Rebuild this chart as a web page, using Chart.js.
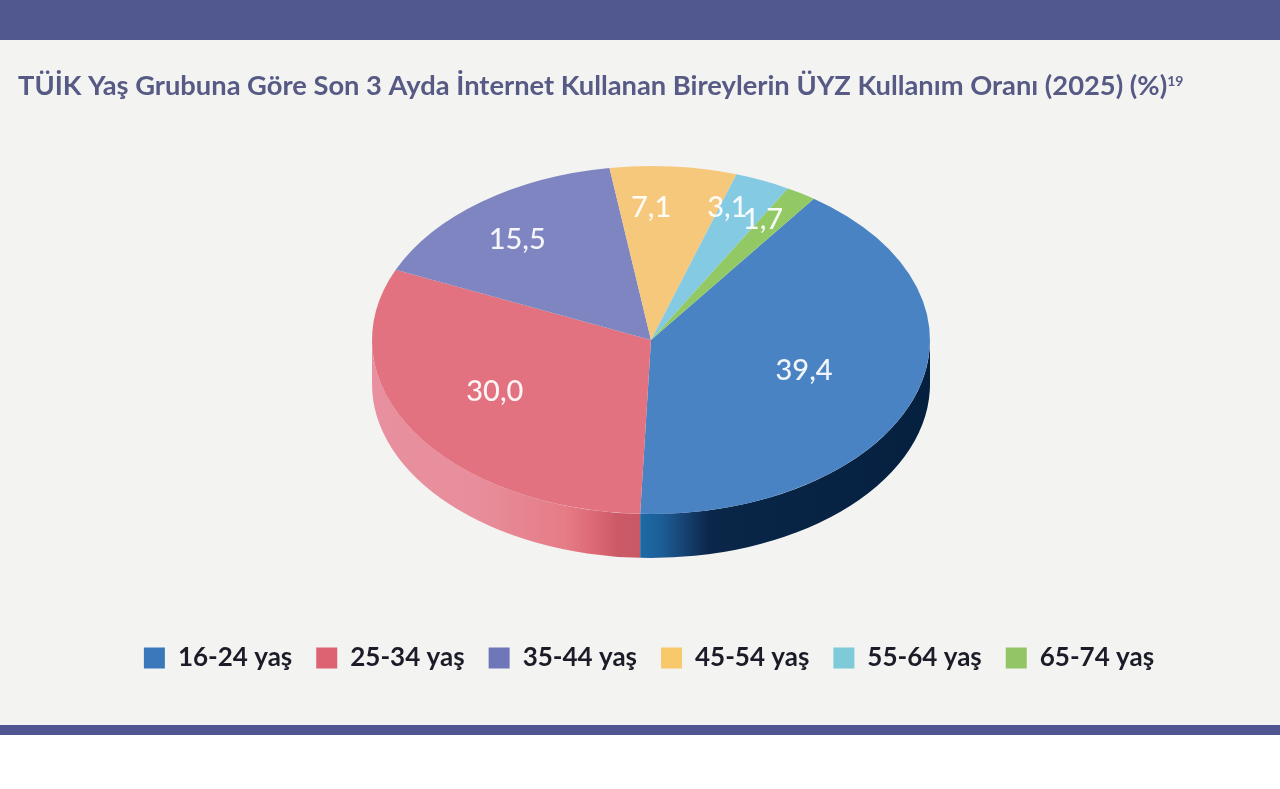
<!DOCTYPE html>
<html lang="tr">
<head>
<meta charset="utf-8">
<title>ÜYZ Kullanım Oranı</title>
<script src="https://cdn.jsdelivr.net/npm/chart.js@4"></script>
<style>
  html, body { margin: 0; padding: 0; background: #ffffff; width: 1280px; height: 789px; overflow: hidden; }
  #panel { position: absolute; left: 0; top: 40px; width: 1280px; height: 685px; background: #f3f4f2; }
  #bandTop { position: absolute; left: 0; top: 0; width: 1280px; height: 40px; background: #50588f; }
  #bandBottom { position: absolute; left: 0; top: 725px; width: 1280px; height: 10px; background: #4e5590; }
  #c { position: absolute; left: 0; top: 0; filter: blur(0.35px); }
</style>
</head>
<body>
<div id="bandTop"></div>
<div id="panel"></div>
<div id="bandBottom"></div>
<canvas id="c" width="1280" height="789"></canvas>
<script>
const titleText = 'TÜİK Yaş Grubuna Göre Son 3 Ayda İnternet Kullanan Bireylerin ÜYZ Kullanım Oranı (2025) (%)';
const titleNote = '19';
const categories = ['16-24 yaş', '25-34 yaş', '35-44 yaş', '45-54 yaş', '55-64 yaş', '65-74 yaş'];
const values = [39.4, 30.0, 15.5, 7.1, 3.1, 1.7];
const colors = ['#4a83c3', '#e2727f', '#7e85c0', '#f6c87c', '#84cae3', '#92c965'];
const legendColors = ['#3b77bb', '#dd6373', '#6f77b9', '#f7c96a', '#7fcad8', '#93c465'];

// Pseudo-3D look of the pie (style only)
const look = { cx: 651, cy: 340, rx: 279, ry: 174, depth: 44, rotation: 35.7 };
const labelRadius = [0.58, 0.64, 0.74, 0.75, 0.80, 0.79];
const labelTurnDeg = [0, 3, -3, -4.6, -3.6, -2];
const sideStops = [
  [[0, '#1c6aa6'], [0.07, '#1d5f98'], [0.16, '#15406f'], [0.24, '#0a2648'], [1, '#05203f']],
  [[0, '#e8909f'], [0.4, '#e88d9b'], [0.72, '#e57c86'], [0.82, '#dd6a75'], [0.92, '#cc5a66'], [1, '#c95866']]
];

const tilt3d = {
  id: 'tilt3d',
  beforeDatasetsDraw(chart) {
    const ctx = chart.ctx;
    const arcs = chart.getDatasetMeta(0).data;
    const { cx, cy, rx, ry, depth } = look;
    // extruded rim, front half only
    arcs.forEach((arc, i) => {
      [0, 2 * Math.PI, -2 * Math.PI].forEach(shift => {
        const a = Math.max(arc.startAngle, shift);
        const b = Math.min(arc.endAngle, shift + Math.PI);
        if (b <= a) return;
        const xa = cx + rx * Math.cos(a), xb = cx + rx * Math.cos(b);
        const g = ctx.createLinearGradient(Math.min(xa, xb), 0, Math.max(xa, xb), 0);
        (sideStops[i] || [[0, colors[i]], [1, colors[i]]]).forEach(s => g.addColorStop(s[0], s[1]));
        ctx.save();
        ctx.beginPath();
        ctx.ellipse(cx, cy, rx, ry, 0, a, b);
        ctx.ellipse(cx, cy + depth, rx, ry, 0, b, a, true);
        ctx.closePath();
        ctx.fillStyle = g;
        ctx.fill();
        ctx.restore();
      });
    });
    // squash the pie into an ellipse
    const arc0 = arcs[0];
    ctx.save();
    ctx.translate(cx, cy);
    ctx.scale(rx / arc0.outerRadius, ry / arc0.outerRadius);
    ctx.translate(-arc0.x, -arc0.y);
  },
  afterDatasetsDraw(chart) {
    const ctx = chart.ctx;
    ctx.restore();
    const arcs = chart.getDatasetMeta(0).data;
    const { cx, cy, rx, ry } = look;
    ctx.save();
    ctx.font = '500 29px Lato';
    ctx.fillStyle = 'rgba(255,255,255,0.92)';
    ctx.textAlign = 'center';
    ctx.textBaseline = 'middle';
    arcs.forEach((arc, i) => {
      const mid = (arc.startAngle + arc.endAngle) / 2 + labelTurnDeg[i] * Math.PI / 180;
      const x = cx + rx * labelRadius[i] * Math.cos(mid);
      const y = cy + ry * labelRadius[i] * Math.sin(mid) - 2;
      ctx.fillText(values[i].toFixed(1).replace('.', ','), x, y);
    });
    ctx.restore();
    // superscript note after the title
    const t = chart.titleBlock;
    const f = t.options.font;
    ctx.save();
    ctx.font = `${f.weight} ${f.size}px ${f.family}`;
    const w = ctx.measureText(titleText).width;
    ctx.font = `${f.weight} 14px ${f.family}`;
    ctx.fillStyle = t.options.color;
    ctx.textAlign = 'left';
    ctx.textBaseline = 'middle';
    ctx.fillText(titleNote, t.left + w, 81);
    ctx.restore();
  }
};

new Chart(document.getElementById('c'), {
  type: 'pie',
  data: {
    labels: categories,
    datasets: [{ data: values, backgroundColor: colors, borderWidth: 0, clip: false }]
  },
  options: {
    responsive: false,
    animation: false,
    rotation: look.rotation,
    layout: { padding: { left: 18, right: 0, top: 0, bottom: 108 } },
    plugins: {
      tooltip: { enabled: false },
      title: {
        display: true,
        text: titleText,
        align: 'start',
        color: '#565a85',
        font: { family: 'Lato', size: 27.3, weight: 'bold' },
        padding: { top: 70, bottom: 20 }
      },
      legend: {
        position: 'bottom',
        labels: {
          boxWidth: 21,
          boxHeight: 21,
          padding: 24,
          color: '#1c1c28',
          font: { family: 'Lato', size: 26, weight: 'bold' },
          generateLabels(chart) {
            return Chart.overrides.pie.plugins.legend.labels.generateLabels(chart)
              .map((item, i) => ({ ...item, fillStyle: legendColors[i], strokeStyle: legendColors[i] }));
          }
        }
      }
    }
  },
  plugins: [tilt3d]
});
</script>
</body>
</html>
